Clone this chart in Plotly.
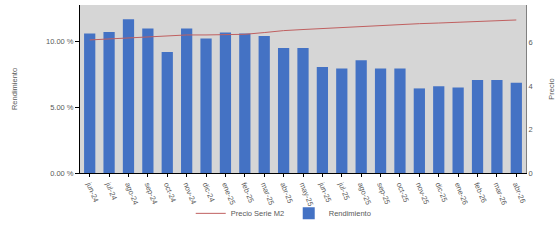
import plotly.graph_objects as go

months = ["jun-24", "jul-24", "ago-24", "sep-24", "oct-24", "nov-24", "dic-24",
          "ene-25", "feb-25", "mar-25", "abr-25", "may-25", "jun-25", "jul-25",
          "ago-25", "sep-25", "oct-25", "nov-25", "dic-25", "ene-26", "feb-26",
          "mar-26", "abr-26"]
rendimiento = [10.58, 10.70, 11.67, 10.96, 9.19, 10.96, 10.20, 10.66, 10.58, 10.40,
               9.49, 9.49, 8.05, 7.93, 8.56, 7.93, 7.93, 6.42, 6.59, 6.49, 7.05,
               7.05, 6.84]
precio_m2 = [6.13, 6.17, 6.22, 6.27, 6.31, 6.36, 6.36, 6.38, 6.39, 6.47, 6.56, 6.61,
             6.66, 6.71, 6.75, 6.80, 6.84, 6.88, 6.91, 6.95, 6.98, 7.01, 7.05]
left_tickvals = [0, 5, 10]
left_ticktext = ["0.00 %", "5.00 %", "10.00 %"]
right_tickvals = [0, 2, 4, 6]

font_col = "#595959"
fig = go.Figure()
fig.add_trace(go.Scatter(x=months, y=precio_m2, name="Precio Serie M2", mode="lines",
                         line=dict(color="#c06060", width=1), yaxis="y2"))
fig.add_trace(go.Bar(x=months, y=rendimiento, name="Rendimiento",
                     marker=dict(color="#4472c4", line=dict(width=0))))

fig.update_layout(
    width=556, height=251,
    margin=dict(l=80, r=30, t=5, b=78, autoexpand=False),
    paper_bgcolor="white", plot_bgcolor="#d6d6d6",
    font=dict(family="Liberation Sans, Arial", size=7.5, color=font_col),
    bargap=0.42,
    showlegend=True,
    legend=dict(orientation="h", x=0.468, xanchor="center", yref="container", y=0.15,
                yanchor="middle", entrywidth=53, entrywidthmode="pixels",
                font=dict(size=7.5, color=font_col), bgcolor="rgba(0,0,0,0)"),
    xaxis=dict(tickangle=68, showline=True, linecolor="black", linewidth=1,
               ticks="outside", ticklen=3, tickcolor="black", showgrid=False,
               automargin=False,
               tickfont=dict(size=7.5, color=font_col), mirror=False),
    yaxis=dict(range=[0, 12.75], tickvals=left_tickvals, ticktext=left_ticktext,
               showline=True, linecolor="black", linewidth=1, ticks="outside",
               ticklen=4, tickcolor="black", showgrid=False, zeroline=False,
               automargin=False,
               title=dict(text="Rendimiento", font=dict(size=7.5, color=font_col), standoff=27)),
    yaxis2=dict(range=[0, 7.74], tickvals=right_tickvals, overlaying="y", side="right",
                showline=True, linecolor="#808080", linewidth=1, ticks="", showgrid=False,
                zeroline=False, automargin=False,
                title=dict(text="Precio", font=dict(size=7.5, color=font_col), standoff=22)),
)
fig.write_html("out.html", config={"displayModeBar": False},
               post_script="document.body.style.margin='0px';")
